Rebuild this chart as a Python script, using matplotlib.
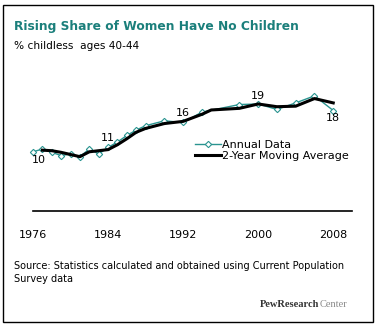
import matplotlib
matplotlib.use("Agg")
import matplotlib.pyplot as plt
from matplotlib.patches import Rectangle

# Annual survey data (% of women ages 40-44 with no children)
years = [1976, 1977, 1978, 1979, 1980, 1981, 1982, 1983, 1984, 1985, 1986, 1987, 1988,
         1990, 1992, 1994, 1998, 2000, 2002, 2004, 2006, 2008]
childless = [10.2, 10.7, 10.1, 9.5, 9.8, 9.3, 10.7, 9.8, 11.0, 12.0, 13.2, 14.2, 15.0,
             15.9, 15.6, 17.5, 18.9, 19.0, 18.0, 19.2, 20.5, 17.8]

# 2-year moving average
ma_years = [1977, 1978, 1979, 1980, 1981, 1982, 1983, 1984, 1985, 1986, 1987, 1988,
            1990, 1992, 1994, 1995, 1998, 2000, 2002, 2004, 2006, 2008]
moving_avg = [10.5, 10.4, 10.1, 9.7, 9.3, 10.2, 10.4, 10.6, 11.5, 12.6, 13.8, 14.5,
              15.4, 15.8, 17.1, 17.9, 18.2, 19.0, 18.5, 18.6, 20.0, 19.2]

# labelled points
callout_years = [1976, 1984, 1992, 2000, 2008]
callout_vals = [10.2, 11.0, 15.6, 19.0, 17.8]
callout_text = ["10", "11", "16", "19", "18"]
tick_years = [1976, 1984, 1992, 2000, 2008]

# label offsets in points (dx, dy)
callout_offsets = [(4, -2.5), (0, 3), (0, 3), (0, 2), (0, -1.5)]

teal = "#2a9490"
title_col = "#1b7f7b"

W, H = 380, 324
fig = plt.figure(figsize=(W / 100, H / 100), dpi=100)
fig.patch.set_facecolor("white")

# outer frame
fig.add_artist(Rectangle((3 / W, 2 / H), 370 / W, 317 / H, transform=fig.transFigure,
                         fill=False, edgecolor="black", linewidth=1.0))

fig.text(14 / W, 1 - 30 / H, "Rising Share of Women Have No Children", color=title_col,
         fontsize=8.8, fontweight="bold", family="DejaVu Sans")
fig.text(14 / W, 1 - 49 / H, "% childless  ages 40-44", color="black", fontsize=7.6)

ax = fig.add_axes([33 / W, (H - 211) / H, 319 / W, (211 - 71.4) / H])
ax.plot(years, childless, color=teal, linewidth=1.0, marker="D", markersize=3.2,
        markerfacecolor="white", markeredgecolor=teal, markeredgewidth=0.8,
        clip_on=False, label="Annual Data", zorder=2)
ax.plot(ma_years, moving_avg, color="black", linewidth=2.2, clip_on=False,
        label="2-Year Moving Average", zorder=3)

for yr, val, txt, (dx, dy) in zip(callout_years, callout_vals, callout_text, callout_offsets):
    ax.annotate(txt, (yr, val), xytext=(dx, dy), textcoords="offset points",
                ha="center", va="bottom" if dy > 0 else "top", fontsize=8)

ax.set_xlim(1976, 2010)
ax.set_ylim(-0.7, 25)
ax.set_xticks(tick_years)
ax.set_xticklabels([str(y) for y in tick_years])
ax.set_yticks([])
ax.tick_params(axis="x", length=0, pad=14, labelsize=8)
for s in ["top", "left", "right"]:
    ax.spines[s].set_visible(False)
ax.spines["bottom"].set_linewidth(1.2)

leg = ax.legend(loc="upper left", bbox_to_anchor=(162 / 319, (211 - 140) / 139.6),
                frameon=False, fontsize=8, handlelength=2.3, handletextpad=0.1,
                labelspacing=0.1, borderpad=0, borderaxespad=0)

fig.text(14 / W, 1 - 261 / H,
         "Source: Statistics calculated and obtained using Current Population\nSurvey data",
         fontsize=7.0, linespacing=1.35, va="top")

# logo: dark "PewResearch" followed by grey "Center"
pew = fig.text(260 / W, 1 - 307 / H, "PewResearch", ha="left", fontsize=7.5,
               color="#333333", family="Liberation Serif", fontweight="bold")
ax.annotate("Center", xy=(1, 0), xycoords=pew, ha="left", va="bottom", fontsize=7.5,
            color="#8a8a8a", family="Liberation Serif", annotation_clip=False)

fig.savefig("out.png", dpi=100)
